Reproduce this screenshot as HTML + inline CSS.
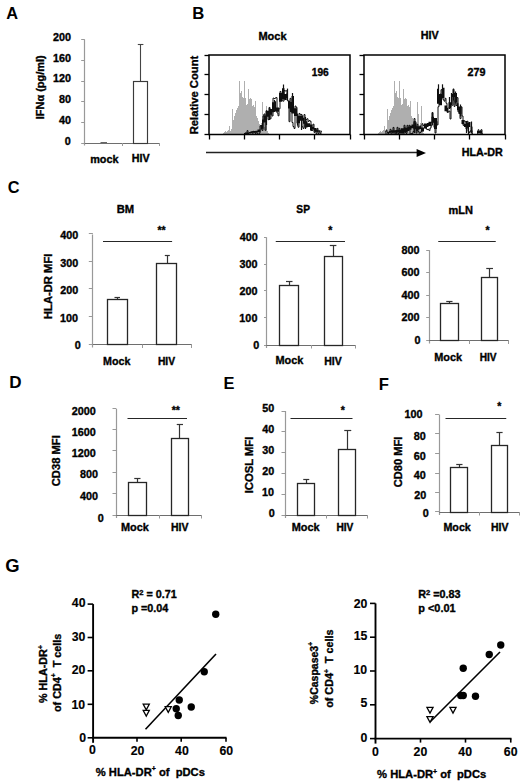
<!DOCTYPE html>
<html><head><meta charset="utf-8"><style>
html,body{margin:0;padding:0;background:#fff;width:520px;height:783px;overflow:hidden}
svg{display:block}
</style></head><body>
<svg width="520" height="783" viewBox="0 0 520 783">
<rect width="520" height="783" fill="#fff"/>
<text transform="translate(6.24,18.74) scale(1.000,1)" font-size="16.34" font-family="'Liberation Sans', sans-serif" font-weight="bold" stroke="#000" stroke-width="0" fill="#000">A</text>
<text transform="translate(52.92,41.01) scale(1.000,1)" font-size="10.80" font-family="'Liberation Sans', sans-serif" font-weight="bold" stroke="#000" stroke-width="0.35" fill="#000">200</text>
<text transform="translate(53.02,61.76) scale(1.000,1)" font-size="10.80" font-family="'Liberation Sans', sans-serif" font-weight="bold" stroke="#000" stroke-width="0.35" fill="#000">160</text>
<text transform="translate(53.02,82.46) scale(1.000,1)" font-size="10.80" font-family="'Liberation Sans', sans-serif" font-weight="bold" stroke="#000" stroke-width="0.35" fill="#000">120</text>
<text transform="translate(58.95,103.16) scale(1.000,1)" font-size="10.80" font-family="'Liberation Sans', sans-serif" font-weight="bold" stroke="#000" stroke-width="0.35" fill="#000">80</text>
<text transform="translate(59.04,123.86) scale(1.000,1)" font-size="10.80" font-family="'Liberation Sans', sans-serif" font-weight="bold" stroke="#000" stroke-width="0.35" fill="#000">40</text>
<text transform="translate(64.80,144.61) scale(1.000,1)" font-size="10.80" font-family="'Liberation Sans', sans-serif" font-weight="bold" stroke="#000" stroke-width="0.35" fill="#000">0</text>
<text transform="translate(43.51,119.24) rotate(-90) scale(1.000,1)" font-size="10.98" font-family="'Liberation Sans', sans-serif" font-weight="bold" stroke="#000" stroke-width="0.35">IFNα (pg/ml)</text>
<line x1="84.5" y1="39.6" x2="84.5" y2="145.5" stroke="#999" stroke-width="1.2"/>
<line x1="81.2" y1="39.5" x2="84.8" y2="39.5" stroke="#999" stroke-width="1"/>
<line x1="81.2" y1="60.5" x2="84.8" y2="60.5" stroke="#999" stroke-width="1"/>
<line x1="81.2" y1="81.5" x2="84.8" y2="81.5" stroke="#999" stroke-width="1"/>
<line x1="81.2" y1="101.5" x2="84.8" y2="101.5" stroke="#999" stroke-width="1"/>
<line x1="81.2" y1="122.5" x2="84.8" y2="122.5" stroke="#999" stroke-width="1"/>
<line x1="81.2" y1="143.5" x2="84.8" y2="143.5" stroke="#999" stroke-width="1"/>
<line x1="84.8" y1="143.5" x2="159" y2="143.5" stroke="#6e6e6e" stroke-width="1.2"/>
<line x1="122.5" y1="143" x2="122.5" y2="146" stroke="#999" stroke-width="1"/>
<line x1="159.5" y1="143" x2="159.5" y2="146" stroke="#999" stroke-width="1"/>
<line x1="100.5" y1="142.5" x2="107" y2="142.5" stroke="#666" stroke-width="1"/>
<line x1="140.5" y1="44.4" x2="140.5" y2="81.5" stroke="#444" stroke-width="1.1"/>
<line x1="137.8" y1="44.5" x2="143.4" y2="44.5" stroke="#444" stroke-width="1.1"/>
<rect x="133.5" y="81.5" width="14.00" height="62.00" stroke="#3a3a3a" stroke-width="1.15" fill="#fff"/>
<text transform="translate(90.19,162.64) scale(1.000,1)" font-size="10.87" font-family="'Liberation Sans', sans-serif" font-weight="bold" stroke="#000" stroke-width="0.35" fill="#000">mock</text>
<text transform="translate(131.68,162.49) scale(1.000,1)" font-size="10.74" font-family="'Liberation Sans', sans-serif" font-weight="bold" stroke="#000" stroke-width="0.35" fill="#000">HIV</text>
<text transform="translate(192.27,18.75) scale(1.000,1)" font-size="16.72" font-family="'Liberation Sans', sans-serif" font-weight="bold" stroke="#000" stroke-width="0" fill="#000">B</text>
<text transform="translate(258.41,39.54) scale(1.000,1)" font-size="11.02" font-family="'Liberation Sans', sans-serif" font-weight="bold" stroke="#000" stroke-width="0.35" fill="#000">Mock</text>
<text transform="translate(420.67,39.46) scale(1.000,1)" font-size="10.80" font-family="'Liberation Sans', sans-serif" font-weight="bold" stroke="#000" stroke-width="0.35" fill="#000">HIV</text>
<text transform="translate(197.93,134.30) rotate(-90) scale(1.090,1)" font-size="10.30" font-family="'Liberation Sans', sans-serif" font-weight="bold" stroke="#000" stroke-width="0.35">Relative Count</text>
<path d="M222 134.5 h1 v-1 h-1 Z M223 134.5 h1 v-2 h-1 Z M224 134.5 h1 v-3 h-1 Z M225 134.5 h1 v-4 h-1 Z M226 134.5 h1 v-3 h-1 Z M227 134.5 h1 v-4 h-1 Z M228 134.5 h1 v-5 h-1 Z M229 134.5 h1 v-9 h-1 Z M230 134.5 h1 v-4 h-1 Z M231 134.5 h1 v-6 h-1 Z M232 134.5 h1 v-26 h-1 Z M233 134.5 h1 v-15 h-1 Z M234 134.5 h1 v-19 h-1 Z M235 134.5 h1 v-22 h-1 Z M236 134.5 h1 v-25 h-1 Z M237 134.5 h1 v-27 h-1 Z M238 134.5 h1 v-29 h-1 Z M239 134.5 h1 v-54 h-1 Z M240 134.5 h1 v-42 h-1 Z M241 134.5 h1 v-44 h-1 Z M242 134.5 h1 v-38 h-1 Z M243 134.5 h1 v-37 h-1 Z M244 134.5 h1 v-54 h-1 Z M245 134.5 h1 v-37 h-1 Z M246 134.5 h1 v-30 h-1 Z M247 134.5 h1 v-31 h-1 Z M248 134.5 h1 v-46 h-1 Z M249 134.5 h1 v-36 h-1 Z M250 134.5 h1 v-37 h-1 Z M251 134.5 h1 v-36 h-1 Z M252 134.5 h1 v-29 h-1 Z M253 134.5 h1 v-30 h-1 Z M254 134.5 h1 v-28 h-1 Z M255 134.5 h1 v-34 h-1 Z M256 134.5 h1 v-19 h-1 Z M257 134.5 h1 v-17 h-1 Z M258 134.5 h1 v-14 h-1 Z M259 134.5 h1 v-11 h-1 Z M260 134.5 h1 v-10 h-1 Z M261 134.5 h1 v-12 h-1 Z M262 134.5 h1 v-33 h-1 Z M263 134.5 h1 v-21 h-1 Z M264 134.5 h1 v-8 h-1 Z M265 134.5 h1 v-12 h-1 Z M266 134.5 h1 v-29 h-1 Z M267 134.5 h1 v-4 h-1 Z M268 134.5 h1 v-2 h-1 Z " fill="#afafaf" stroke="none" shape-rendering="crispEdges"/>
<path d="M377 134.5 h1 v-1 h-1 Z M378 134.5 h1 v-2 h-1 Z M379 134.5 h1 v-3 h-1 Z M380 134.5 h1 v-4 h-1 Z M381 134.5 h1 v-3 h-1 Z M382 134.5 h1 v-4 h-1 Z M383 134.5 h1 v-5 h-1 Z M384 134.5 h1 v-9 h-1 Z M385 134.5 h1 v-4 h-1 Z M386 134.5 h1 v-6 h-1 Z M387 134.5 h1 v-26 h-1 Z M388 134.5 h1 v-15 h-1 Z M389 134.5 h1 v-19 h-1 Z M390 134.5 h1 v-22 h-1 Z M391 134.5 h1 v-25 h-1 Z M392 134.5 h1 v-27 h-1 Z M393 134.5 h1 v-29 h-1 Z M394 134.5 h1 v-54 h-1 Z M395 134.5 h1 v-42 h-1 Z M396 134.5 h1 v-44 h-1 Z M397 134.5 h1 v-38 h-1 Z M398 134.5 h1 v-37 h-1 Z M399 134.5 h1 v-54 h-1 Z M400 134.5 h1 v-37 h-1 Z M401 134.5 h1 v-30 h-1 Z M402 134.5 h1 v-31 h-1 Z M403 134.5 h1 v-46 h-1 Z M404 134.5 h1 v-36 h-1 Z M405 134.5 h1 v-37 h-1 Z M406 134.5 h1 v-36 h-1 Z M407 134.5 h1 v-29 h-1 Z M408 134.5 h1 v-30 h-1 Z M409 134.5 h1 v-28 h-1 Z M410 134.5 h1 v-34 h-1 Z M411 134.5 h1 v-19 h-1 Z M412 134.5 h1 v-17 h-1 Z M413 134.5 h1 v-14 h-1 Z M414 134.5 h1 v-11 h-1 Z M415 134.5 h1 v-10 h-1 Z M416 134.5 h1 v-12 h-1 Z M417 134.5 h1 v-33 h-1 Z M418 134.5 h1 v-21 h-1 Z M419 134.5 h1 v-8 h-1 Z M420 134.5 h1 v-12 h-1 Z M421 134.5 h1 v-29 h-1 Z M422 134.5 h1 v-4 h-1 Z M423 134.5 h1 v-2 h-1 Z " fill="#afafaf" stroke="none" shape-rendering="crispEdges"/>
<path d="M244.00 132.94 H246.00 V134.16 H244.00 Z M246.00 132.39 H249.00 V134.09 H246.00 Z M249.00 132.04 H250.50 V133.58 H249.00 Z M250.50 131.24 H252.50 V133.15 H250.50 Z M252.50 130.94 H255.50 V132.77 H252.50 Z M255.50 130.74 H257.50 V132.57 H255.50 Z M257.50 129.42 H260.50 V132.15 H257.50 Z M260.50 125.24 H262.00 V129.38 H260.50 Z M262.00 119.62 H263.50 V128.65 H262.00 Z M263.50 115.62 H266.00 V122.38 H263.50 Z M266.00 110.86 H269.00 V116.65 H266.00 Z M269.00 108.97 H272.00 V114.79 H269.00 Z M272.00 102.37 H274.00 V112.24 H272.00 Z M274.00 101.34 H276.00 V111.40 H274.00 Z M276.00 107.47 H279.00 V111.78 H276.00 Z M279.00 92.90 H282.00 V101.78 H279.00 Z M282.00 88.23 H284.50 V99.57 H282.00 Z M284.50 94.12 H286.50 V99.95 H284.50 Z M286.50 93.25 H288.00 V97.99 H286.50 Z M288.00 100.63 H290.00 V108.56 H288.00 Z M290.00 101.88 H291.50 V112.00 H290.00 Z M291.50 96.00 H294.00 V113.60 H291.50 Z M294.00 108.22 H297.00 V115.98 H294.00 Z M297.00 115.78 H300.00 V123.27 H297.00 Z M300.00 115.55 H303.00 V120.83 H300.00 Z M303.00 117.83 H304.50 V123.65 H303.00 Z M304.50 121.34 H307.50 V127.59 H304.50 Z M307.50 123.35 H310.00 V126.88 H307.50 Z M310.00 124.45 H312.50 V130.43 H310.00 Z M312.50 127.03 H314.00 V129.19 H312.50 Z M314.00 128.03 H316.50 V131.71 H314.00 Z M316.50 129.45 H318.00 V132.05 H316.50 Z M318.00 130.35 H320.50 V131.87 H318.00 Z " fill="#0d0d0d" stroke="none"/>
<path d="M244.00 134.11 L245.00 134.11 L245.00 132.93 L246.00 132.93 L246.00 134.50 L247.00 134.50 L247.00 130.66 L248.00 130.66 L248.00 134.34 L249.00 134.34 L249.00 134.29 L250.00 134.29 L250.00 134.19 L251.00 134.19 L251.00 134.46 L252.00 134.46 L252.00 134.10 L253.00 134.10 L253.00 131.32 L254.00 131.32 L254.00 131.94 L255.00 131.94 L255.00 133.40 L256.00 133.40 L256.00 131.50 L257.00 131.50 L257.00 133.73 L258.00 133.73 L258.00 134.50 L259.00 134.50 L259.00 133.27 L260.00 133.27 L260.00 125.83 L261.00 125.83 L261.00 125.54 L262.00 125.54 L262.00 130.44 L263.00 130.44 L263.00 116.03 L264.00 116.03 L264.00 113.97 L265.00 113.97 L265.00 130.27 L266.00 130.27 L266.00 110.75 L267.00 110.75 L267.00 113.86 L268.00 113.86 L268.00 119.68 L269.00 119.68 L269.00 107.46 L270.00 107.46 L270.00 118.86 L271.00 118.86 L271.00 110.24 L272.00 110.24 L272.00 116.01 L273.00 116.01 L273.00 98.14 L274.00 98.14 L274.00 98.58 L275.00 98.58 L275.00 98.03 L276.00 98.03 L276.00 97.61 L277.00 97.61 L277.00 112.99 L278.00 112.99 L278.00 115.77 L279.00 115.77 L279.00 108.77 L280.00 108.77 L280.00 91.45 L281.00 91.45 L281.00 96.72 L282.00 96.72 L282.00 100.76 L283.00 100.76 L283.00 101.12 L284.00 101.12 L284.00 90.58 L285.00 90.58 L285.00 90.97 L286.00 90.97 L286.00 90.81 L287.00 90.81 L287.00 100.09 L288.00 100.09 L288.00 101.42 L289.00 101.42 L289.00 121.68 L290.00 121.68 L290.00 98.36 L291.00 98.36 L291.00 111.97 L292.00 111.97 L292.00 122.49 L293.00 122.49 L293.00 126.53 L294.00 126.53 L294.00 128.45 L295.00 128.45 L295.00 106.06 L296.00 106.06 L296.00 107.33 L297.00 107.33 L297.00 123.29 L298.00 123.29 L298.00 127.20 L299.00 127.20 L299.00 113.46 L300.00 113.46 L300.00 114.74 L301.00 114.74 L301.00 114.45 L302.00 114.45 L302.00 126.78 L303.00 126.78 L303.00 128.44 L304.00 128.44 L304.00 114.57 L305.00 114.57 L305.00 127.32 L306.00 127.32 L306.00 119.45 L307.00 119.45 L307.00 118.78 L308.00 118.78 L308.00 121.40 L309.00 121.40 L309.00 120.53 L310.00 120.53 L310.00 121.20 L311.00 121.20 L311.00 130.47 L312.00 130.47 L312.00 130.41 L313.00 130.41 L313.00 124.20 L314.00 124.20 L314.00 132.41 L315.00 132.41 L315.00 131.40 L316.00 131.40 L316.00 133.70 L317.00 133.70 L317.00 128.38 L318.00 128.38 L318.00 133.46 L319.00 133.46 L319.00 131.69 L320.00 131.69 L320.00 133.81 L321.00 133.81 L321.00 131.29 L322.00 131.29" fill="none" stroke="#111" stroke-width="1.0"/>
<path d="M385.00 132.66 H387.50 V133.59 H385.00 Z M387.50 131.85 H389.00 V133.18 H387.50 Z M389.00 130.97 H391.00 V132.64 H389.00 Z M391.00 130.22 H392.50 V132.42 H391.00 Z M392.50 130.14 H395.50 V132.80 H392.50 Z M395.50 130.09 H397.00 V133.01 H395.50 Z M397.00 130.09 H399.00 V132.29 H397.00 Z M399.00 129.75 H401.00 V133.54 H399.00 Z M401.00 128.14 H404.00 V133.31 H401.00 Z M404.00 127.36 H405.50 V132.46 H404.00 Z M405.50 127.85 H407.50 V132.17 H405.50 Z M407.50 127.05 H409.50 V131.02 H407.50 Z M409.50 125.65 H411.50 V129.65 H409.50 Z M411.50 124.59 H413.50 V128.18 H411.50 Z M413.50 122.29 H416.00 V129.30 H413.50 Z M416.00 126.33 H418.00 V131.14 H416.00 Z M418.00 126.24 H419.50 V129.70 H418.00 Z M419.50 125.43 H421.00 V128.99 H419.50 Z M421.00 127.39 H424.00 V131.48 H421.00 Z M424.00 123.48 H427.00 V128.46 H424.00 Z M427.00 122.95 H428.50 V126.99 H427.00 Z M428.50 121.72 H431.50 V125.89 H428.50 Z M431.50 116.82 H434.00 V122.74 H431.50 Z M434.00 118.12 H437.00 V129.01 H434.00 Z M437.00 88.77 H439.00 V103.74 H437.00 Z M439.00 93.91 H442.00 V105.20 H439.00 Z M442.00 87.79 H444.50 V98.21 H442.00 Z M444.50 105.48 H447.00 V111.28 H444.50 Z M447.00 107.64 H448.50 V112.15 H447.00 Z M448.50 102.17 H451.00 V108.32 H448.50 Z M451.00 94.12 H452.50 V104.09 H451.00 Z M452.50 89.30 H454.50 V97.09 H452.50 Z M454.50 93.06 H457.00 V102.20 H454.50 Z M457.00 103.16 H458.50 V110.20 H457.00 Z M458.50 106.41 H461.50 V113.88 H458.50 Z M461.50 119.95 H464.00 V123.88 H461.50 Z M464.00 123.68 H467.00 V126.92 H464.00 Z M467.00 122.64 H468.50 V127.79 H467.00 Z M468.50 121.96 H470.50 V127.10 H468.50 Z M470.50 130.51 H472.50 V132.58 H470.50 Z " fill="#0d0d0d" stroke="none"/>
<path d="M385.00 131.95 L386.00 131.95 L386.00 130.19 L387.00 130.19 L387.00 132.42 L388.00 132.42 L388.00 133.64 L389.00 133.64 L389.00 132.11 L390.00 132.11 L390.00 129.32 L391.00 129.32 L391.00 134.50 L392.00 134.50 L392.00 132.34 L393.00 132.34 L393.00 127.43 L394.00 127.43 L394.00 134.50 L395.00 134.50 L395.00 133.74 L396.00 133.74 L396.00 133.74 L397.00 133.74 L397.00 127.35 L398.00 127.35 L398.00 133.57 L399.00 133.57 L399.00 128.35 L400.00 128.35 L400.00 132.68 L401.00 132.68 L401.00 130.14 L402.00 130.14 L402.00 134.39 L403.00 134.39 L403.00 134.26 L404.00 134.26 L404.00 125.27 L405.00 125.27 L405.00 132.38 L406.00 132.38 L406.00 133.41 L407.00 133.41 L407.00 125.35 L408.00 125.35 L408.00 129.11 L409.00 129.11 L409.00 125.34 L410.00 125.34 L410.00 134.12 L411.00 134.12 L411.00 133.60 L412.00 133.60 L412.00 133.40 L413.00 133.40 L413.00 131.47 L414.00 131.47 L414.00 118.55 L415.00 118.55 L415.00 121.76 L416.00 121.76 L416.00 132.98 L417.00 132.98 L417.00 124.32 L418.00 124.32 L418.00 131.41 L419.00 131.41 L419.00 133.06 L420.00 133.06 L420.00 132.55 L421.00 132.55 L421.00 131.33 L422.00 131.33 L422.00 123.74 L423.00 123.74 L423.00 125.53 L424.00 125.53 L424.00 126.40 L425.00 126.40 L425.00 124.71 L426.00 124.71 L426.00 128.90 L427.00 128.90 L427.00 129.55 L428.00 129.55 L428.00 129.37 L429.00 129.37 L429.00 130.59 L430.00 130.59 L430.00 128.09 L431.00 128.09 L431.00 125.88 L432.00 125.88 L432.00 112.49 L433.00 112.49 L433.00 121.30 L434.00 121.30 L434.00 127.43 L435.00 127.43 L435.00 132.98 L436.00 132.98 L436.00 121.30 L437.00 121.30 L437.00 124.90 L438.00 124.90 L438.00 106.71 L439.00 106.71 L439.00 102.49 L440.00 102.49 L440.00 94.12 L441.00 94.12 L441.00 89.69 L442.00 89.69 L442.00 95.58 L443.00 95.58 L443.00 99.73 L444.00 99.73 L444.00 101.14 L445.00 101.14 L445.00 98.33 L446.00 98.33 L446.00 103.28 L447.00 103.28 L447.00 112.29 L448.00 112.29 L448.00 111.94 L449.00 111.94 L449.00 111.12 L450.00 111.12 L450.00 118.96 L451.00 118.96 L451.00 105.90 L452.00 105.90 L452.00 105.07 L453.00 105.07 L453.00 94.79 L454.00 94.79 L454.00 106.42 L455.00 106.42 L455.00 100.40 L456.00 100.40 L456.00 105.54 L457.00 105.54 L457.00 97.64 L458.00 97.64 L458.00 111.93 L459.00 111.93 L459.00 107.94 L460.00 107.94 L460.00 118.61 L461.00 118.61 L461.00 106.90 L462.00 106.90 L462.00 116.02 L463.00 116.02 L463.00 125.32 L464.00 125.32 L464.00 120.81 L465.00 120.81 L465.00 121.77 L466.00 121.77 L466.00 129.05 L467.00 129.05 L467.00 121.27 L468.00 121.27 L468.00 131.40 L469.00 131.40 L469.00 132.61 L470.00 132.61 L470.00 131.03 L471.00 131.03 L471.00 126.63 L472.00 126.63 L472.00 133.34 L473.00 133.34" fill="none" stroke="#111" stroke-width="1.0"/>
<path d="M477.00 131.05 H480.00 V133.56 H477.00 Z M480.00 130.70 H482.00 V133.81 H480.00 Z " fill="#0d0d0d" stroke="none"/>
<path d="M477.00 133.16 L478.00 133.16 L478.00 129.80 L479.00 129.80 L479.00 132.31 L480.00 132.31 L480.00 130.92 L481.00 130.92 L481.00 129.72 L482.00 129.72 L482.00 133.88 L483.00 133.88" fill="none" stroke="#111" stroke-width="1.0"/>
<line x1="283.5" y1="84.5" x2="283.5" y2="96.5" stroke="#111" stroke-width="1.2"/>
<line x1="287.5" y1="88.6" x2="287.5" y2="100.6" stroke="#111" stroke-width="1.2"/>
<line x1="292.5" y1="93" x2="292.5" y2="105" stroke="#111" stroke-width="1.2"/>
<line x1="274.5" y1="100" x2="274.5" y2="112" stroke="#111" stroke-width="1.2"/>
<line x1="269.5" y1="108" x2="269.5" y2="120" stroke="#111" stroke-width="1.2"/>
<line x1="266.5" y1="113" x2="266.5" y2="125" stroke="#111" stroke-width="1.2"/>
<line x1="305.5" y1="117" x2="305.5" y2="129" stroke="#111" stroke-width="1.2"/>
<line x1="301.5" y1="118" x2="301.5" y2="130" stroke="#111" stroke-width="1.2"/>
<line x1="297.5" y1="113.6" x2="297.5" y2="125.6" stroke="#111" stroke-width="1.2"/>
<line x1="438.5" y1="84.3" x2="438.5" y2="96.3" stroke="#111" stroke-width="1.2"/>
<line x1="442.5" y1="84.3" x2="442.5" y2="96.3" stroke="#111" stroke-width="1.2"/>
<line x1="453.5" y1="88.5" x2="453.5" y2="100.5" stroke="#111" stroke-width="1.2"/>
<line x1="455.5" y1="91.5" x2="455.5" y2="103.5" stroke="#111" stroke-width="1.2"/>
<line x1="460.5" y1="104.5" x2="460.5" y2="116.5" stroke="#111" stroke-width="1.2"/>
<line x1="432.5" y1="113" x2="432.5" y2="125" stroke="#111" stroke-width="1.2"/>
<line x1="414.5" y1="121" x2="414.5" y2="133" stroke="#111" stroke-width="1.2"/>
<line x1="466.5" y1="121" x2="466.5" y2="133" stroke="#111" stroke-width="1.2"/>
<line x1="468.5" y1="123" x2="468.5" y2="135" stroke="#111" stroke-width="1.2"/>
<line x1="471.5" y1="121.5" x2="471.5" y2="133.5" stroke="#111" stroke-width="1.2"/>
<line x1="449.5" y1="97" x2="449.5" y2="109" stroke="#111" stroke-width="1.2"/>
<line x1="451.5" y1="93" x2="451.5" y2="105" stroke="#111" stroke-width="1.2"/>
<rect x="209" y="55" width="141" height="79.5" fill="none" stroke="#000" stroke-width="1.5"/>
<line x1="204.5" y1="55.5" x2="209" y2="55.5" stroke="#000" stroke-width="1.3"/>
<line x1="209.5" y1="134.5" x2="209.5" y2="139.5" stroke="#000" stroke-width="1.3"/>
<line x1="204.5" y1="74.5" x2="209" y2="74.5" stroke="#000" stroke-width="1.3"/>
<line x1="244.5" y1="134.5" x2="244.5" y2="139.5" stroke="#000" stroke-width="1.3"/>
<line x1="204.5" y1="94.5" x2="209" y2="94.5" stroke="#000" stroke-width="1.3"/>
<line x1="279.5" y1="134.5" x2="279.5" y2="139.5" stroke="#000" stroke-width="1.3"/>
<line x1="204.5" y1="114.5" x2="209" y2="114.5" stroke="#000" stroke-width="1.3"/>
<line x1="314.5" y1="134.5" x2="314.5" y2="139.5" stroke="#000" stroke-width="1.3"/>
<line x1="204.5" y1="134.5" x2="209" y2="134.5" stroke="#000" stroke-width="1.3"/>
<line x1="350.5" y1="134.5" x2="350.5" y2="139.5" stroke="#000" stroke-width="1.3"/>
<rect x="364" y="55" width="141" height="79.5" fill="none" stroke="#000" stroke-width="1.5"/>
<line x1="359.5" y1="55.5" x2="364" y2="55.5" stroke="#000" stroke-width="1.3"/>
<line x1="364.5" y1="134.5" x2="364.5" y2="139.5" stroke="#000" stroke-width="1.3"/>
<line x1="359.5" y1="74.5" x2="364" y2="74.5" stroke="#000" stroke-width="1.3"/>
<line x1="399.5" y1="134.5" x2="399.5" y2="139.5" stroke="#000" stroke-width="1.3"/>
<line x1="359.5" y1="94.5" x2="364" y2="94.5" stroke="#000" stroke-width="1.3"/>
<line x1="434.5" y1="134.5" x2="434.5" y2="139.5" stroke="#000" stroke-width="1.3"/>
<line x1="359.5" y1="114.5" x2="364" y2="114.5" stroke="#000" stroke-width="1.3"/>
<line x1="469.5" y1="134.5" x2="469.5" y2="139.5" stroke="#000" stroke-width="1.3"/>
<line x1="359.5" y1="134.5" x2="364" y2="134.5" stroke="#000" stroke-width="1.3"/>
<line x1="505.5" y1="134.5" x2="505.5" y2="139.5" stroke="#000" stroke-width="1.3"/>
<text transform="translate(311.77,75.99) scale(1.000,1)" font-size="10.16" font-family="'Liberation Sans', sans-serif" font-weight="bold" stroke="#000" stroke-width="0.35" fill="#000">196</text>
<text transform="translate(467.52,75.70) scale(1.000,1)" font-size="10.77" font-family="'Liberation Sans', sans-serif" font-weight="bold" stroke="#000" stroke-width="0.35" fill="#000">279</text>
<line x1="206" y1="152.5" x2="419" y2="152.5" stroke="#222" stroke-width="1.4"/>
<path d="M416.6 148.9 L426 152.9 L416.6 156.9 Z" fill="#000"/>
<text transform="translate(461.67,156.44) scale(1.000,1)" font-size="10.74" font-family="'Liberation Sans', sans-serif" font-weight="bold" stroke="#000" stroke-width="0.35" fill="#000">HLA-DR</text>
<text transform="translate(7.75,193.49) scale(1.000,1)" font-size="16.34" font-family="'Liberation Sans', sans-serif" font-weight="bold" stroke="#000" stroke-width="0" fill="#000">C</text>
<text transform="translate(116.64,213.48) scale(1.000,1)" font-size="11.21" font-family="'Liberation Sans', sans-serif" font-weight="bold" stroke="#000" stroke-width="0.35" fill="#000">BM</text>
<text transform="translate(296.34,213.13) scale(1.000,1)" font-size="10.20" font-family="'Liberation Sans', sans-serif" font-weight="bold" stroke="#000" stroke-width="0.35" fill="#000">SP</text>
<text transform="translate(448.44,213.77) scale(1.000,1)" font-size="10.98" font-family="'Liberation Sans', sans-serif" font-weight="bold" stroke="#000" stroke-width="0.35" fill="#000">mLN</text>
<text transform="translate(157.41,234.11) scale(1.000,1)" font-size="10.50" font-family="'Liberation Sans', sans-serif" font-weight="bold" stroke="#000" stroke-width="0.35" fill="#000">**</text>
<text transform="translate(328.25,234.11) scale(1.000,1)" font-size="10.50" font-family="'Liberation Sans', sans-serif" font-weight="bold" stroke="#000" stroke-width="0.35" fill="#000">*</text>
<text transform="translate(485.45,234.36) scale(1.000,1)" font-size="10.50" font-family="'Liberation Sans', sans-serif" font-weight="bold" stroke="#000" stroke-width="0.35" fill="#000">*</text>
<text transform="translate(60.33,239.26) scale(1.000,1)" font-size="10.80" font-family="'Liberation Sans', sans-serif" font-weight="bold" stroke="#000" stroke-width="0.35" fill="#000">400</text>
<text transform="translate(60.29,267.00) scale(1.000,1)" font-size="10.80" font-family="'Liberation Sans', sans-serif" font-weight="bold" stroke="#000" stroke-width="0.35" fill="#000">300</text>
<text transform="translate(60.22,294.46) scale(1.000,1)" font-size="10.80" font-family="'Liberation Sans', sans-serif" font-weight="bold" stroke="#000" stroke-width="0.35" fill="#000">200</text>
<text transform="translate(60.07,322.01) scale(1.000,1)" font-size="10.80" font-family="'Liberation Sans', sans-serif" font-weight="bold" stroke="#000" stroke-width="0.35" fill="#000">100</text>
<text transform="translate(74.80,348.71) scale(1.000,1)" font-size="10.80" font-family="'Liberation Sans', sans-serif" font-weight="bold" stroke="#000" stroke-width="0.35" fill="#000">0</text>
<text transform="translate(51.96,319.06) rotate(-90) scale(1.000,1)" font-size="11.22" font-family="'Liberation Sans', sans-serif" font-weight="bold" stroke="#000" stroke-width="0.35">HLA-DR MFI</text>
<line x1="92.5" y1="234.5" x2="92.5" y2="347.5" stroke="#999" stroke-width="1.2"/>
<line x1="88.8" y1="233.5" x2="92.9" y2="233.5" stroke="#999" stroke-width="1"/>
<line x1="88.8" y1="261.5" x2="92.9" y2="261.5" stroke="#999" stroke-width="1"/>
<line x1="88.8" y1="288.5" x2="92.9" y2="288.5" stroke="#999" stroke-width="1"/>
<line x1="88.8" y1="316.5" x2="92.9" y2="316.5" stroke="#999" stroke-width="1"/>
<line x1="88.8" y1="344.5" x2="92.9" y2="344.5" stroke="#999" stroke-width="1"/>
<line x1="92.9" y1="344.5" x2="191.75" y2="344.5" stroke="#6e6e6e" stroke-width="1.2"/>
<line x1="142.5" y1="344.5" x2="142.5" y2="348.0" stroke="#999" stroke-width="1"/>
<line x1="191.5" y1="344.5" x2="191.5" y2="348.0" stroke="#999" stroke-width="1"/>
<line x1="117.5" y1="297.5" x2="117.5" y2="299.25" stroke="#333" stroke-width="1.2"/>
<line x1="114.5" y1="297.5" x2="120" y2="297.5" stroke="#333" stroke-width="1.2"/>
<rect x="107.5" y="299.5" width="20.00" height="45.00" stroke="#262626" stroke-width="1.3" fill="#fff"/>
<line x1="167.5" y1="255.5" x2="167.5" y2="263.3" stroke="#333" stroke-width="1.2"/>
<line x1="164.8" y1="255.5" x2="169.8" y2="255.5" stroke="#333" stroke-width="1.2"/>
<rect x="156.5" y="263.5" width="20.00" height="81.00" stroke="#262626" stroke-width="1.3" fill="#fff"/>
<line x1="103" y1="241.5" x2="172.1" y2="241.5" stroke="#262626" stroke-width="1.1"/>
<text transform="translate(103.08,364.72) scale(1.000,1)" font-size="10.68" font-family="'Liberation Sans', sans-serif" font-weight="bold" stroke="#000" stroke-width="0.35" fill="#000">Mock</text>
<text transform="translate(157.90,364.69) scale(1.000,1)" font-size="10.30" font-family="'Liberation Sans', sans-serif" font-weight="bold" stroke="#000" stroke-width="0.35" fill="#000">HIV</text>
<text transform="translate(239.63,241.21) scale(1.000,1)" font-size="10.80" font-family="'Liberation Sans', sans-serif" font-weight="bold" stroke="#000" stroke-width="0.35" fill="#000">400</text>
<text transform="translate(239.59,268.30) scale(1.000,1)" font-size="10.80" font-family="'Liberation Sans', sans-serif" font-weight="bold" stroke="#000" stroke-width="0.35" fill="#000">300</text>
<text transform="translate(239.52,295.31) scale(1.000,1)" font-size="10.80" font-family="'Liberation Sans', sans-serif" font-weight="bold" stroke="#000" stroke-width="0.35" fill="#000">200</text>
<text transform="translate(239.37,322.21) scale(1.000,1)" font-size="10.80" font-family="'Liberation Sans', sans-serif" font-weight="bold" stroke="#000" stroke-width="0.35" fill="#000">100</text>
<text transform="translate(253.20,348.56) scale(1.000,1)" font-size="10.80" font-family="'Liberation Sans', sans-serif" font-weight="bold" stroke="#000" stroke-width="0.35" fill="#000">0</text>
<line x1="266.5" y1="237.2" x2="266.5" y2="348.0" stroke="#999" stroke-width="1.2"/>
<line x1="264" y1="237.5" x2="266.3" y2="237.5" stroke="#999" stroke-width="1"/>
<line x1="264" y1="264.5" x2="266.3" y2="264.5" stroke="#999" stroke-width="1"/>
<line x1="264" y1="290.5" x2="266.3" y2="290.5" stroke="#999" stroke-width="1"/>
<line x1="264" y1="317.5" x2="266.3" y2="317.5" stroke="#999" stroke-width="1"/>
<line x1="264" y1="345.5" x2="266.3" y2="345.5" stroke="#999" stroke-width="1"/>
<line x1="266.3" y1="345.5" x2="355.5" y2="345.5" stroke="#6e6e6e" stroke-width="1.2"/>
<line x1="311.5" y1="345" x2="311.5" y2="348.5" stroke="#999" stroke-width="1"/>
<line x1="355.5" y1="345" x2="355.5" y2="348.5" stroke="#999" stroke-width="1"/>
<line x1="289.5" y1="281.75" x2="289.5" y2="285" stroke="#333" stroke-width="1.2"/>
<line x1="286" y1="281.5" x2="292.5" y2="281.5" stroke="#333" stroke-width="1.2"/>
<rect x="279.5" y="285.5" width="19.00" height="60.00" stroke="#262626" stroke-width="1.3" fill="#fff"/>
<line x1="333.5" y1="245" x2="333.5" y2="256.25" stroke="#333" stroke-width="1.2"/>
<line x1="329.8" y1="245.5" x2="336.4" y2="245.5" stroke="#333" stroke-width="1.2"/>
<rect x="324.5" y="256.5" width="18.00" height="89.00" stroke="#262626" stroke-width="1.3" fill="#fff"/>
<line x1="275.75" y1="241.5" x2="345" y2="241.5" stroke="#262626" stroke-width="1.1"/>
<text transform="translate(275.41,364.28) scale(1.000,1)" font-size="10.92" font-family="'Liberation Sans', sans-serif" font-weight="bold" stroke="#000" stroke-width="0.35" fill="#000">Mock</text>
<text transform="translate(324.19,364.60) scale(1.000,1)" font-size="10.49" font-family="'Liberation Sans', sans-serif" font-weight="bold" stroke="#000" stroke-width="0.35" fill="#000">HIV</text>
<text transform="translate(401.44,253.51) scale(1.000,1)" font-size="10.80" font-family="'Liberation Sans', sans-serif" font-weight="bold" stroke="#000" stroke-width="0.35" fill="#000">800</text>
<text transform="translate(401.41,275.81) scale(1.000,1)" font-size="10.80" font-family="'Liberation Sans', sans-serif" font-weight="bold" stroke="#000" stroke-width="0.35" fill="#000">600</text>
<text transform="translate(401.53,298.86) scale(1.000,1)" font-size="10.80" font-family="'Liberation Sans', sans-serif" font-weight="bold" stroke="#000" stroke-width="0.35" fill="#000">400</text>
<text transform="translate(401.42,321.31) scale(1.000,1)" font-size="10.80" font-family="'Liberation Sans', sans-serif" font-weight="bold" stroke="#000" stroke-width="0.35" fill="#000">200</text>
<text transform="translate(414.45,343.91) scale(1.000,1)" font-size="10.80" font-family="'Liberation Sans', sans-serif" font-weight="bold" stroke="#000" stroke-width="0.35" fill="#000">0</text>
<line x1="429.5" y1="250.1" x2="429.5" y2="343.5" stroke="#999" stroke-width="1.2"/>
<line x1="426.2" y1="250.5" x2="429.1" y2="250.5" stroke="#999" stroke-width="1"/>
<line x1="426.2" y1="272.5" x2="429.1" y2="272.5" stroke="#999" stroke-width="1"/>
<line x1="426.2" y1="295.5" x2="429.1" y2="295.5" stroke="#999" stroke-width="1"/>
<line x1="426.2" y1="317.5" x2="429.1" y2="317.5" stroke="#999" stroke-width="1"/>
<line x1="426.2" y1="340.5" x2="429.1" y2="340.5" stroke="#999" stroke-width="1"/>
<line x1="429.1" y1="340.5" x2="508.75" y2="340.5" stroke="#6e6e6e" stroke-width="1.2"/>
<line x1="469.5" y1="340.5" x2="469.5" y2="344.0" stroke="#999" stroke-width="1"/>
<line x1="508.5" y1="340.5" x2="508.5" y2="344.0" stroke="#999" stroke-width="1"/>
<line x1="449.5" y1="301.75" x2="449.5" y2="303.75" stroke="#333" stroke-width="1.2"/>
<line x1="446.25" y1="301.5" x2="452.5" y2="301.5" stroke="#333" stroke-width="1.2"/>
<rect x="440.5" y="303.5" width="18.00" height="37.00" stroke="#262626" stroke-width="1.3" fill="#fff"/>
<line x1="489.5" y1="268" x2="489.5" y2="277.5" stroke="#333" stroke-width="1.2"/>
<line x1="486.25" y1="268.5" x2="493" y2="268.5" stroke="#333" stroke-width="1.2"/>
<rect x="481.5" y="277.5" width="16.00" height="63.00" stroke="#262626" stroke-width="1.3" fill="#fff"/>
<line x1="438.25" y1="241.5" x2="495.75" y2="241.5" stroke="#262626" stroke-width="1.1"/>
<text transform="translate(434.16,360.78) scale(1.000,1)" font-size="10.92" font-family="'Liberation Sans', sans-serif" font-weight="bold" stroke="#000" stroke-width="0.35" fill="#000">Mock</text>
<text transform="translate(479.71,360.50) scale(1.000,1)" font-size="10.17" font-family="'Liberation Sans', sans-serif" font-weight="bold" stroke="#000" stroke-width="0.35" fill="#000">HIV</text>
<text transform="translate(9.25,387.74) scale(1.000,1)" font-size="17.06" font-family="'Liberation Sans', sans-serif" font-weight="bold" stroke="#000" stroke-width="0" fill="#000">D</text>
<text transform="translate(71.63,414.51) scale(1.000,1)" font-size="10.80" font-family="'Liberation Sans', sans-serif" font-weight="bold" stroke="#000" stroke-width="0.35" fill="#000">2000</text>
<text transform="translate(71.73,435.61) scale(1.000,1)" font-size="10.80" font-family="'Liberation Sans', sans-serif" font-weight="bold" stroke="#000" stroke-width="0.35" fill="#000">1600</text>
<text transform="translate(71.73,456.86) scale(1.000,1)" font-size="10.80" font-family="'Liberation Sans', sans-serif" font-weight="bold" stroke="#000" stroke-width="0.35" fill="#000">1200</text>
<text transform="translate(79.94,478.36) scale(1.000,1)" font-size="10.80" font-family="'Liberation Sans', sans-serif" font-weight="bold" stroke="#000" stroke-width="0.35" fill="#000">800</text>
<text transform="translate(80.03,499.61) scale(1.000,1)" font-size="10.80" font-family="'Liberation Sans', sans-serif" font-weight="bold" stroke="#000" stroke-width="0.35" fill="#000">400</text>
<text transform="translate(97.70,521.51) scale(1.000,1)" font-size="10.80" font-family="'Liberation Sans', sans-serif" font-weight="bold" stroke="#000" stroke-width="0.35" fill="#000">0</text>
<text transform="translate(60.10,486.30) rotate(-90) scale(1.000,1)" font-size="11.23" font-family="'Liberation Sans', sans-serif" font-weight="bold" stroke="#000" stroke-width="0.35">CD38 MFI</text>
<line x1="116.5" y1="408.75" x2="116.5" y2="518.0" stroke="#999" stroke-width="1.2"/>
<line x1="112.5" y1="408.5" x2="116.25" y2="408.5" stroke="#999" stroke-width="1"/>
<line x1="112.5" y1="429.5" x2="116.25" y2="429.5" stroke="#999" stroke-width="1"/>
<line x1="112.5" y1="450.5" x2="116.25" y2="450.5" stroke="#999" stroke-width="1"/>
<line x1="112.5" y1="472.5" x2="116.25" y2="472.5" stroke="#999" stroke-width="1"/>
<line x1="112.5" y1="493.5" x2="116.25" y2="493.5" stroke="#999" stroke-width="1"/>
<line x1="112.5" y1="515.5" x2="116.25" y2="515.5" stroke="#999" stroke-width="1"/>
<line x1="116.25" y1="515.5" x2="201.25" y2="515.5" stroke="#6e6e6e" stroke-width="1.2"/>
<line x1="159.5" y1="515" x2="159.5" y2="518.5" stroke="#999" stroke-width="1"/>
<line x1="201.5" y1="515" x2="201.5" y2="518.5" stroke="#999" stroke-width="1"/>
<line x1="137.5" y1="478.75" x2="137.5" y2="482.5" stroke="#333" stroke-width="1.2"/>
<line x1="134.25" y1="478.5" x2="140.5" y2="478.5" stroke="#333" stroke-width="1.2"/>
<rect x="128.5" y="482.5" width="18.00" height="33.00" stroke="#262626" stroke-width="1.3" fill="#fff"/>
<line x1="179.5" y1="424.25" x2="179.5" y2="438.25" stroke="#333" stroke-width="1.2"/>
<line x1="176.75" y1="424.5" x2="183" y2="424.5" stroke="#333" stroke-width="1.2"/>
<rect x="171.5" y="438.5" width="17.00" height="77.00" stroke="#262626" stroke-width="1.3" fill="#fff"/>
<line x1="127.5" y1="418.5" x2="187" y2="418.5" stroke="#262626" stroke-width="1.1"/>
<text transform="translate(171.78,413.86) scale(1.000,1)" font-size="10.50" font-family="'Liberation Sans', sans-serif" font-weight="bold" stroke="#000" stroke-width="0.35" fill="#000">**</text>
<text transform="translate(120.91,531.41) scale(1.000,1)" font-size="10.92" font-family="'Liberation Sans', sans-serif" font-weight="bold" stroke="#000" stroke-width="0.35" fill="#000">Mock</text>
<text transform="translate(170.94,531.10) scale(1.000,1)" font-size="10.49" font-family="'Liberation Sans', sans-serif" font-weight="bold" stroke="#000" stroke-width="0.35" fill="#000">HIV</text>
<text transform="translate(223.54,389.02) scale(1.000,1)" font-size="16.43" font-family="'Liberation Sans', sans-serif" font-weight="bold" stroke="#000" stroke-width="0" fill="#000">E</text>
<text transform="translate(262.29,411.69) scale(1.000,1)" font-size="10.80" font-family="'Liberation Sans', sans-serif" font-weight="bold" stroke="#000" stroke-width="0.35" fill="#000">50</text>
<text transform="translate(262.37,432.76) scale(1.000,1)" font-size="10.80" font-family="'Liberation Sans', sans-serif" font-weight="bold" stroke="#000" stroke-width="0.35" fill="#000">40</text>
<text transform="translate(262.33,453.95) scale(1.000,1)" font-size="10.80" font-family="'Liberation Sans', sans-serif" font-weight="bold" stroke="#000" stroke-width="0.35" fill="#000">30</text>
<text transform="translate(262.26,475.14) scale(1.000,1)" font-size="10.80" font-family="'Liberation Sans', sans-serif" font-weight="bold" stroke="#000" stroke-width="0.35" fill="#000">20</text>
<text transform="translate(262.11,496.21) scale(1.000,1)" font-size="10.80" font-family="'Liberation Sans', sans-serif" font-weight="bold" stroke="#000" stroke-width="0.35" fill="#000">10</text>
<text transform="translate(268.65,516.86) scale(1.000,1)" font-size="10.80" font-family="'Liberation Sans', sans-serif" font-weight="bold" stroke="#000" stroke-width="0.35" fill="#000">0</text>
<text transform="translate(252.63,493.36) rotate(-90) scale(1.000,1)" font-size="11.28" font-family="'Liberation Sans', sans-serif" font-weight="bold" stroke="#000" stroke-width="0.35">ICOSL MFI</text>
<line x1="285.5" y1="411" x2="285.5" y2="518.0" stroke="#999" stroke-width="1.2"/>
<line x1="281.5" y1="411.5" x2="285.6" y2="411.5" stroke="#999" stroke-width="1"/>
<line x1="281.5" y1="431.5" x2="285.6" y2="431.5" stroke="#999" stroke-width="1"/>
<line x1="281.5" y1="452.5" x2="285.6" y2="452.5" stroke="#999" stroke-width="1"/>
<line x1="281.5" y1="473.5" x2="285.6" y2="473.5" stroke="#999" stroke-width="1"/>
<line x1="281.5" y1="494.5" x2="285.6" y2="494.5" stroke="#999" stroke-width="1"/>
<line x1="281.5" y1="515.5" x2="285.6" y2="515.5" stroke="#999" stroke-width="1"/>
<line x1="285.6" y1="515.5" x2="367.5" y2="515.5" stroke="#6e6e6e" stroke-width="1.2"/>
<line x1="326.5" y1="515" x2="326.5" y2="518.5" stroke="#999" stroke-width="1"/>
<line x1="367.5" y1="515" x2="367.5" y2="518.5" stroke="#999" stroke-width="1"/>
<line x1="306.5" y1="479.25" x2="306.5" y2="483.75" stroke="#333" stroke-width="1.2"/>
<line x1="303.25" y1="479.5" x2="309.25" y2="479.5" stroke="#333" stroke-width="1.2"/>
<rect x="297.5" y="483.5" width="17.00" height="32.00" stroke="#262626" stroke-width="1.3" fill="#fff"/>
<line x1="347.5" y1="430.5" x2="347.5" y2="449.25" stroke="#333" stroke-width="1.2"/>
<line x1="344.25" y1="430.5" x2="351.25" y2="430.5" stroke="#333" stroke-width="1.2"/>
<rect x="338.5" y="449.5" width="17.00" height="66.00" stroke="#262626" stroke-width="1.3" fill="#fff"/>
<line x1="290.5" y1="418.5" x2="352.5" y2="418.5" stroke="#262626" stroke-width="1.1"/>
<text transform="translate(340.85,413.96) scale(1.000,1)" font-size="10.50" font-family="'Liberation Sans', sans-serif" font-weight="bold" stroke="#000" stroke-width="0.35" fill="#000">*</text>
<text transform="translate(291.66,531.41) scale(1.000,1)" font-size="10.92" font-family="'Liberation Sans', sans-serif" font-weight="bold" stroke="#000" stroke-width="0.35" fill="#000">Mock</text>
<text transform="translate(336.46,531.00) scale(1.000,1)" font-size="10.17" font-family="'Liberation Sans', sans-serif" font-weight="bold" stroke="#000" stroke-width="0.35" fill="#000">HIV</text>
<text transform="translate(378.78,390.10) scale(1.000,1)" font-size="16.65" font-family="'Liberation Sans', sans-serif" font-weight="bold" stroke="#000" stroke-width="0" fill="#000">F</text>
<text transform="translate(404.57,417.66) scale(1.000,1)" font-size="10.80" font-family="'Liberation Sans', sans-serif" font-weight="bold" stroke="#000" stroke-width="0.35" fill="#000">100</text>
<text transform="translate(413.70,439.91) scale(1.000,1)" font-size="10.80" font-family="'Liberation Sans', sans-serif" font-weight="bold" stroke="#000" stroke-width="0.35" fill="#000">80</text>
<text transform="translate(413.67,459.61) scale(1.000,1)" font-size="10.80" font-family="'Liberation Sans', sans-serif" font-weight="bold" stroke="#000" stroke-width="0.35" fill="#000">60</text>
<text transform="translate(413.79,478.81) scale(1.000,1)" font-size="10.80" font-family="'Liberation Sans', sans-serif" font-weight="bold" stroke="#000" stroke-width="0.35" fill="#000">40</text>
<text transform="translate(414.33,498.51) scale(1.000,1)" font-size="10.80" font-family="'Liberation Sans', sans-serif" font-weight="bold" stroke="#000" stroke-width="0.35" fill="#000">20</text>
<text transform="translate(422.80,517.26) scale(1.000,1)" font-size="10.80" font-family="'Liberation Sans', sans-serif" font-weight="bold" stroke="#000" stroke-width="0.35" fill="#000">0</text>
<text transform="translate(401.93,487.25) rotate(-90) scale(1.000,1)" font-size="11.13" font-family="'Liberation Sans', sans-serif" font-weight="bold" stroke="#000" stroke-width="0.35">CD80 MFI</text>
<line x1="439.5" y1="414.6" x2="439.5" y2="515.0" stroke="#999" stroke-width="1.2"/>
<line x1="435.1" y1="414.5" x2="439.2" y2="414.5" stroke="#999" stroke-width="1"/>
<line x1="435.1" y1="433.5" x2="439.2" y2="433.5" stroke="#999" stroke-width="1"/>
<line x1="435.1" y1="453.5" x2="439.2" y2="453.5" stroke="#999" stroke-width="1"/>
<line x1="435.1" y1="473.5" x2="439.2" y2="473.5" stroke="#999" stroke-width="1"/>
<line x1="435.1" y1="492.5" x2="439.2" y2="492.5" stroke="#999" stroke-width="1"/>
<line x1="435.1" y1="511.5" x2="439.2" y2="511.5" stroke="#999" stroke-width="1"/>
<line x1="439.2" y1="512.5" x2="519.5" y2="512.5" stroke="#6e6e6e" stroke-width="1.2"/>
<line x1="479.5" y1="512" x2="479.5" y2="515.5" stroke="#999" stroke-width="1"/>
<line x1="519.5" y1="512" x2="519.5" y2="515.5" stroke="#999" stroke-width="1"/>
<line x1="459.5" y1="464.25" x2="459.5" y2="467.5" stroke="#333" stroke-width="1.2"/>
<line x1="456.25" y1="464.5" x2="462.5" y2="464.5" stroke="#333" stroke-width="1.2"/>
<rect x="450.5" y="467.5" width="17.00" height="45.00" stroke="#262626" stroke-width="1.3" fill="#fff"/>
<line x1="499.5" y1="432.5" x2="499.5" y2="445" stroke="#333" stroke-width="1.2"/>
<line x1="496.4" y1="432.5" x2="502.6" y2="432.5" stroke="#333" stroke-width="1.2"/>
<rect x="491.5" y="445.5" width="16.00" height="67.00" stroke="#262626" stroke-width="1.3" fill="#fff"/>
<line x1="445.5" y1="418.5" x2="506.25" y2="418.5" stroke="#262626" stroke-width="1.1"/>
<text transform="translate(497.35,410.26) scale(1.000,1)" font-size="10.50" font-family="'Liberation Sans', sans-serif" font-weight="bold" stroke="#000" stroke-width="0.35" fill="#000">*</text>
<text transform="translate(443.43,531.08) scale(1.000,1)" font-size="10.72" font-family="'Liberation Sans', sans-serif" font-weight="bold" stroke="#000" stroke-width="0.35" fill="#000">Mock</text>
<text transform="translate(490.94,530.85) scale(1.000,1)" font-size="10.49" font-family="'Liberation Sans', sans-serif" font-weight="bold" stroke="#000" stroke-width="0.35" fill="#000">HIV</text>
<text transform="translate(5.16,571.72) scale(1.000,1)" font-size="18.44" font-family="'Liberation Sans', sans-serif" font-weight="bold" stroke="#000" stroke-width="0" fill="#000">G</text>
<line x1="93.1" y1="604.1" x2="93.1" y2="742.8" stroke="#000" stroke-width="1.9"/>
<line x1="92.1" y1="737.8" x2="226.5" y2="737.8" stroke="#000" stroke-width="1.9"/>
<line x1="87.6" y1="604.1" x2="93.1" y2="604.1" stroke="#000" stroke-width="1.6"/>
<line x1="87.6" y1="637.5" x2="93.1" y2="637.5" stroke="#000" stroke-width="1.6"/>
<line x1="87.6" y1="670.8" x2="93.1" y2="670.8" stroke="#000" stroke-width="1.6"/>
<line x1="87.6" y1="704.3" x2="93.1" y2="704.3" stroke="#000" stroke-width="1.6"/>
<line x1="87.6" y1="737.8" x2="93.1" y2="737.8" stroke="#000" stroke-width="1.6"/>
<line x1="137" y1="737.8" x2="137" y2="741.8" stroke="#000" stroke-width="1.6"/>
<line x1="181.2" y1="737.8" x2="181.2" y2="741.8" stroke="#000" stroke-width="1.6"/>
<line x1="226" y1="737.8" x2="226" y2="741.8" stroke="#000" stroke-width="1.6"/>
<line x1="145.5" y1="729.25" x2="216" y2="654" stroke="#000" stroke-width="1.6"/>
<circle cx="215.75" cy="614.25" r="3.7" fill="#000"/>
<circle cx="204.25" cy="671.75" r="3.7" fill="#000"/>
<circle cx="179.25" cy="700" r="3.7" fill="#000"/>
<circle cx="191.25" cy="707" r="3.7" fill="#000"/>
<circle cx="176.25" cy="708.75" r="3.7" fill="#000"/>
<circle cx="178.25" cy="715.5" r="3.7" fill="#000"/>
<path d="M143.15 704.05 L149.35 704.05 L146.25 709.85 Z" fill="#fff" stroke="#000" stroke-width="1.25"/>
<path d="M143.15 710.3 L149.35 710.3 L146.25 716.1 Z" fill="#fff" stroke="#000" stroke-width="1.25"/>
<path d="M165.15 706.55 L171.35 706.55 L168.25 712.35 Z" fill="#fff" stroke="#000" stroke-width="1.25"/>
<text transform="translate(71.80,607.38) scale(1.000,1)" font-size="12.30" font-family="'Liberation Sans', sans-serif" font-weight="bold" stroke="#000" stroke-width="0.15" fill="#000">40</text>
<text transform="translate(71.76,640.51) scale(1.000,1)" font-size="12.30" font-family="'Liberation Sans', sans-serif" font-weight="bold" stroke="#000" stroke-width="0.15" fill="#000">30</text>
<text transform="translate(71.68,673.93) scale(1.000,1)" font-size="12.30" font-family="'Liberation Sans', sans-serif" font-weight="bold" stroke="#000" stroke-width="0.15" fill="#000">20</text>
<text transform="translate(71.51,708.73) scale(1.000,1)" font-size="12.30" font-family="'Liberation Sans', sans-serif" font-weight="bold" stroke="#000" stroke-width="0.15" fill="#000">10</text>
<text transform="translate(79.26,741.63) scale(1.000,1)" font-size="12.30" font-family="'Liberation Sans', sans-serif" font-weight="bold" stroke="#000" stroke-width="0.15" fill="#000">0</text>
<text transform="translate(89.04,754.13) scale(1.000,1)" font-size="12.30" font-family="'Liberation Sans', sans-serif" font-weight="bold" stroke="#000" stroke-width="0.15" fill="#000">0</text>
<text transform="translate(130.70,754.73) scale(1.000,1)" font-size="12.30" font-family="'Liberation Sans', sans-serif" font-weight="bold" stroke="#000" stroke-width="0.15" fill="#000">20</text>
<text transform="translate(175.08,754.73) scale(1.000,1)" font-size="12.30" font-family="'Liberation Sans', sans-serif" font-weight="bold" stroke="#000" stroke-width="0.15" fill="#000">40</text>
<text transform="translate(219.44,754.73) scale(1.000,1)" font-size="12.30" font-family="'Liberation Sans', sans-serif" font-weight="bold" stroke="#000" stroke-width="0.15" fill="#000">60</text>
<text transform="translate(131.42,598.09) scale(1.000,1)" font-size="10.80" font-family="'Liberation Sans', sans-serif" font-weight="bold" stroke="#000" stroke-width="0.35" fill="#000">R<tspan font-size="7.6" dy="-3.4">2</tspan><tspan dy="3.4"> = 0.71</tspan></text>
<text transform="translate(131.45,611.70) scale(1.000,1)" font-size="10.81" font-family="'Liberation Sans', sans-serif" font-weight="bold" stroke="#000" stroke-width="0.35" fill="#000">p =0.04</text>
<text transform="translate(95.79,775.55) scale(1.000,1)" font-size="11.20" font-family="'Liberation Sans', sans-serif" font-weight="bold" stroke="#000" stroke-width="0.35" fill="#000">% HLA-DR<tspan font-size="6.94" dy="-4.48">+</tspan><tspan dy="4.48"> of&#160; pDCs</tspan></text>
<text transform="translate(46.86,703.06) rotate(-90) scale(1.000,1)" font-size="10.80" font-family="'Liberation Sans', sans-serif" font-weight="bold" stroke="#000" stroke-width="0.35">% HLA-DR<tspan font-size="6.70" dy="-4.32">+</tspan></text>
<text transform="translate(60.51,712.05) rotate(-90) scale(1.000,1)" font-size="10.80" font-family="'Liberation Sans', sans-serif" font-weight="bold" stroke="#000" stroke-width="0.35">of CD4<tspan font-size="6.70" dy="-4.32">+</tspan><tspan dy="4.32">&#160; T cells</tspan></text>
<line x1="375.5" y1="603.4" x2="375.5" y2="743.6" stroke="#000" stroke-width="1.9"/>
<line x1="374.5" y1="738.6" x2="511.5" y2="738.6" stroke="#000" stroke-width="1.9"/>
<line x1="370.0" y1="603.4" x2="375.5" y2="603.4" stroke="#000" stroke-width="1.6"/>
<line x1="370.0" y1="637.2" x2="375.5" y2="637.2" stroke="#000" stroke-width="1.6"/>
<line x1="370.0" y1="671" x2="375.5" y2="671" stroke="#000" stroke-width="1.6"/>
<line x1="370.0" y1="704.8" x2="375.5" y2="704.8" stroke="#000" stroke-width="1.6"/>
<line x1="370.0" y1="738.6" x2="375.5" y2="738.6" stroke="#000" stroke-width="1.6"/>
<line x1="420.5" y1="738.6" x2="420.5" y2="742.6" stroke="#000" stroke-width="1.6"/>
<line x1="465.5" y1="738.6" x2="465.5" y2="742.6" stroke="#000" stroke-width="1.6"/>
<line x1="510.75" y1="738.6" x2="510.75" y2="742.6" stroke="#000" stroke-width="1.6"/>
<line x1="430" y1="722" x2="500" y2="652" stroke="#000" stroke-width="1.6"/>
<circle cx="500.75" cy="645" r="3.7" fill="#000"/>
<circle cx="489.25" cy="654.5" r="3.7" fill="#000"/>
<circle cx="463.25" cy="668.25" r="3.7" fill="#000"/>
<circle cx="460.75" cy="695.5" r="3.7" fill="#000"/>
<circle cx="463.25" cy="695.5" r="3.7" fill="#000"/>
<circle cx="475.5" cy="696.25" r="3.7" fill="#000"/>
<path d="M426.9 707.3 L433.1 707.3 L430 713.1 Z" fill="#fff" stroke="#000" stroke-width="1.25"/>
<path d="M426.9 716.55 L433.1 716.55 L430 722.35 Z" fill="#fff" stroke="#000" stroke-width="1.25"/>
<path d="M449.9 707.3 L456.1 707.3 L453 713.1 Z" fill="#fff" stroke="#000" stroke-width="1.25"/>
<text transform="translate(353.65,607.53) scale(1.000,1)" font-size="12.30" font-family="'Liberation Sans', sans-serif" font-weight="bold" stroke="#000" stroke-width="0.15" fill="#000">20</text>
<text transform="translate(353.71,639.87) scale(1.000,1)" font-size="12.30" font-family="'Liberation Sans', sans-serif" font-weight="bold" stroke="#000" stroke-width="0.15" fill="#000">15</text>
<text transform="translate(353.49,674.13) scale(1.000,1)" font-size="12.30" font-family="'Liberation Sans', sans-serif" font-weight="bold" stroke="#000" stroke-width="0.15" fill="#000">10</text>
<text transform="translate(360.52,707.07) scale(1.000,1)" font-size="12.30" font-family="'Liberation Sans', sans-serif" font-weight="bold" stroke="#000" stroke-width="0.15" fill="#000">5</text>
<text transform="translate(360.54,741.53) scale(1.000,1)" font-size="12.30" font-family="'Liberation Sans', sans-serif" font-weight="bold" stroke="#000" stroke-width="0.15" fill="#000">0</text>
<text transform="translate(371.94,756.18) scale(1.000,1)" font-size="12.30" font-family="'Liberation Sans', sans-serif" font-weight="bold" stroke="#000" stroke-width="0.15" fill="#000">0</text>
<text transform="translate(413.58,756.18) scale(1.000,1)" font-size="12.30" font-family="'Liberation Sans', sans-serif" font-weight="bold" stroke="#000" stroke-width="0.15" fill="#000">20</text>
<text transform="translate(458.33,756.18) scale(1.000,1)" font-size="12.30" font-family="'Liberation Sans', sans-serif" font-weight="bold" stroke="#000" stroke-width="0.15" fill="#000">40</text>
<text transform="translate(503.81,756.18) scale(1.000,1)" font-size="12.30" font-family="'Liberation Sans', sans-serif" font-weight="bold" stroke="#000" stroke-width="0.15" fill="#000">60</text>
<text transform="translate(418.17,597.96) scale(1.000,1)" font-size="10.82" font-family="'Liberation Sans', sans-serif" font-weight="bold" stroke="#000" stroke-width="0.35" fill="#000">R<tspan font-size="7.6" dy="-3.4">2</tspan><tspan dy="3.4"> =0.83</tspan></text>
<text transform="translate(418.19,612.03) scale(1.000,1)" font-size="10.95" font-family="'Liberation Sans', sans-serif" font-weight="bold" stroke="#000" stroke-width="0.35" fill="#000">p &lt;0.01</text>
<text transform="translate(377.11,778.27) scale(1.000,1)" font-size="11.20" font-family="'Liberation Sans', sans-serif" font-weight="bold" stroke="#000" stroke-width="0.35" fill="#000">% HLA-DR<tspan font-size="6.94" dy="-4.48">+</tspan><tspan dy="4.48"> of&#160; pDCs</tspan></text>
<text transform="translate(317.57,704.17) rotate(-90) scale(1.000,1)" font-size="10.50" font-family="'Liberation Sans', sans-serif" font-weight="bold" stroke="#000" stroke-width="0.35">%Caspase3<tspan font-size="6.70" dy="-4.32">+</tspan></text>
<text transform="translate(333.49,707.85) rotate(-90) scale(1.000,1)" font-size="10.80" font-family="'Liberation Sans', sans-serif" font-weight="bold" stroke="#000" stroke-width="0.35">of CD4<tspan font-size="6.70" dy="-4.32">+</tspan><tspan dy="4.32">&#160; T cells</tspan></text>
</svg>
</body></html>
